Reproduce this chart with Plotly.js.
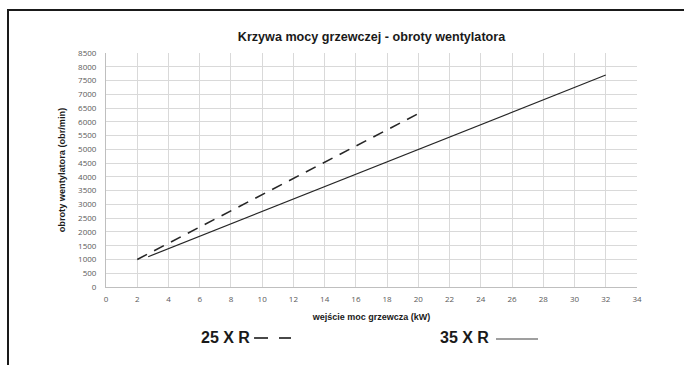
<!DOCTYPE html>
<html>
<head>
<meta charset="utf-8">
<script src="https://cdn.plot.ly/plotly-3.0.1.min.js"></script>
<style>
  html, body { margin: 0; padding: 0; background: #fff; }
  #wrap { position: relative; width: 684px; height: 365px; overflow: hidden; }
  #chart { position: absolute; left: 0; top: 0; width: 684px; height: 365px; }
  #frame { position: absolute; left: 7px; top: 9px; width: 700px; height: 400px;
           border-left: 2px solid #1a1a1a; border-top: 2px solid #1a1a1a; pointer-events: none; }
</style>
</head>
<body>
<div id="wrap">
  <div id="chart"></div>
  <div id="frame"></div>
</div>
<script>
// Data
const seriesNames = ["25 X R", "35 X R"];
const x25 = [2, 20];
const y25 = [1000, 6300];
const x35 = [2.7, 32];
const y35 = [1100, 7700];

const chartTitle = "Krzywa mocy grzewczej - obroty wentylatora";
const xTitle = "wejście moc grzewcza (kW)";
const yTitle = "obroty wentylatora (obr/min)";

const lineColor = "#262626";
const gridColor = "#d9d9d9";
const tickColor = "#595959";

const traces = [
  { x: x25, y: y25, name: seriesNames[0], mode: "lines", type: "scatter",
    line: { color: lineColor, width: 1.6, dash: "11px,8px" } },
  { x: x35, y: y35, name: seriesNames[1], mode: "lines", type: "scatter",
    line: { color: lineColor, width: 1.2 } }
];

const legendFont = { family: "Liberation Sans, Arial, sans-serif", size: 16, color: "#1a1a1a", weight: "bold" };

const layout = {
  width: 684, height: 365,
  margin: { l: 106, r: 47, t: 53, b: 78 },
  paper_bgcolor: "#ffffff", plot_bgcolor: "#ffffff",
  showlegend: false,
  font: { family: "Liberation Sans, Arial, sans-serif" },
  title: { text: "<b>" + chartTitle + "</b>", font: { size: 12.6, color: "#1a1a1a" },
           x: 0.5, xref: "paper", xanchor: "center", y: 1 - 37/365, yanchor: "middle" },
  xaxis: {
    range: [0, 34], dtick: 2, tick0: 0,
    showgrid: true, gridcolor: gridColor, gridwidth: 1,
    showline: true, linecolor: "#bfbfbf", linewidth: 1, mirror: false,
    zeroline: false, ticks: "outside", ticklen: 4, tickcolor: "rgba(0,0,0,0)",
    tickfont: { size: 8, color: tickColor, family: "Open Sans, Liberation Sans, sans-serif" },
    title: { text: "<b>" + xTitle + "</b>", font: { size: 9, color: "#1a1a1a" }, standoff: 11 },
    fixedrange: true
  },
  yaxis: {
    range: [0, 8500], dtick: 500, tick0: 0,
    showgrid: true, gridcolor: gridColor, gridwidth: 1,
    showline: true, linecolor: "#bfbfbf", linewidth: 1,
    zeroline: false, ticks: "outside", ticklen: 7, tickcolor: "rgba(0,0,0,0)",
    tickfont: { size: 8, color: tickColor, family: "Open Sans, Liberation Sans, sans-serif" },
    title: { text: "<b>" + yTitle + "</b>", font: { size: 9.2, color: "#1a1a1a" }, standoff: 10 },
    fixedrange: true
  },
  annotations: [
    { text: seriesNames[0], xref: "paper", yref: "paper", x: (252 - 106) / 531, y: (287 - 337) / 234,
      xanchor: "right", yanchor: "middle", showarrow: false, font: legendFont },
    { text: seriesNames[1], xref: "paper", yref: "paper", x: (491 - 106) / 531, y: (287 - 337) / 234,
      xanchor: "right", yanchor: "middle", showarrow: false, font: legendFont }
  ],
  shapes: [
    { type: "line", xref: "paper", yref: "paper", x0: (254 - 106) / 531, x1: (268 - 106) / 531,
      y0: (287 - 338) / 234, y1: (287 - 338) / 234, line: { color: "#1a1a1a", width: 1.6 } },
    { type: "line", xref: "paper", yref: "paper", x0: (279 - 106) / 531, x1: (291 - 106) / 531,
      y0: (287 - 338) / 234, y1: (287 - 338) / 234, line: { color: "#1a1a1a", width: 1.6 } },
    { type: "line", xref: "paper", yref: "paper", x0: (496 - 106) / 531, x1: (538 - 106) / 531,
      y0: (287 - 339) / 234, y1: (287 - 339) / 234, line: { color: "#404040", width: 1.2 } }
  ]
};

Plotly.newPlot("chart", traces, layout, { displayModeBar: false, staticPlot: true });
</script>
</body>
</html>
